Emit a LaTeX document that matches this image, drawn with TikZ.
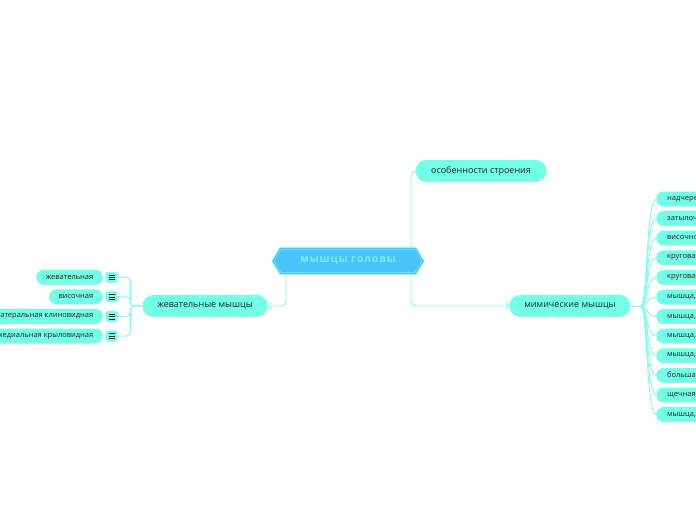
\documentclass[tikz,border=0pt]{standalone}
\usepackage{fontspec}
\setmainfont{Open Sans}
\usepackage{xcolor}
\usepackage{tikz}
\usetikzlibrary{shapes.symbols, arrows.meta, positioning, calc, backgrounds}
\definecolor{mint}{RGB}{115,255,230}
\definecolor{mintline}{RGB}{125,255,232}
\definecolor{hubblue}{RGB}{72,196,250}
\definecolor{hubtext}{RGB}{120,236,240}
\definecolor{inkgray}{RGB}{35,35,35}
\tikzset{
  hub/.style={
    signal, signal to=east and west, signal pointer angle=118,
    fill=hubblue, draw=mintline, line width=0.5pt, double=hubblue, double distance=1.2pt,
    minimum width=150pt, minimum height=25pt, inner sep=0pt, text=hubtext,
    font=\bfseries\fontsize{10.5}{12}\selectfont\addfontfeature{LetterSpace=8}
  },
  branch/.style={
    rectangle, rounded corners=11pt, fill=mint, text=inkgray,
    minimum height=22pt, inner xsep=14pt, font=\fontsize{9}{11}\selectfont
  },
  leaf/.style={
    rectangle, rounded corners=7.5pt, fill=mint, text=inkgray,
    minimum height=15pt, inner xsep=9.5pt, inner ysep=0pt, font=\fontsize{7.5}{9}\selectfont
  },
  rleaf/.style={
    anchor=west, text width=140pt, align=left, inner xsep=11pt
  },
  iconbox/.style={
    rectangle, rounded corners=1.5pt, fill=mint, minimum size=11pt, inner sep=0pt,
    path picture={
      \foreach \k in {-2.4,0,2.4}
        \draw[inkgray, line width=0.7pt]
          ([xshift=-3pt, yshift=\k pt]path picture bounding box.center) -- ++(6pt,0);
    }
  },
  link/.style={draw=mintline, line width=0.9pt},
  arrow/.style={link, -{Straight Barb[length=3pt, width=6pt]}}
}
\begin{document}
\begin{tikzpicture}[x=1pt, y=1pt]

\useasboundingbox (0,0) rectangle (696,-520);
\clip (0,0) rectangle (696,-520);

\node[hub] (head) at (348,-261) {мышцы головы};

\node[branch, minimum width=131pt] (struct) at (481,-171) {особенности строения};
\node[branch, minimum width=121pt] (mimic)  at (570,-306) {мимические мышцы};
\node[branch, minimum width=125pt] (chew)   at (205,-306) {жевательные мышцы};

% left leaves with icons
\foreach \txt [count=\i] in {жевательная, височная, латеральная клиновидная, медиальная крыловидная} {
  \node[leaf, anchor=east] (l\i) at (103, {-277.3-19.6*(\i-1)}) {\txt};
  \node[iconbox, right=3pt of l\i] (ic\i) {};
}

% right leaves
\foreach \txt [count=\i] in {надчерепная мышца, затылочно-лобная мышца, височно-теменная мышца,
    круговая мышца глаза, круговая мышца рта, {мышца, сморщивающая бровь},
    {мышца, поднимающая верхнюю губу}, {мышца, поднимающая угол рта},
    {мышца, опускающая угол рта}, большая скуловая мышца, щечная мышца,
    {мышца, опускающая нижнюю губу}} {
  \node[leaf, rleaf] (r\i) at (656, {-199-19.6*(\i-1)}) {\txt};
}

\begin{scope}[on background layer]
\draw[link, rounded corners=5pt] ([xshift=63pt]head.center) |- (struct.west);
\draw[arrow, rounded corners=5pt] ([xshift=63pt]head.center) |- (mimic.west);
\draw[arrow, rounded corners=5pt] ([xshift=-62pt]head.center) |- (chew.east);
\end{scope}

% fan to the right
\draw[link] (mimic.east) -- ++(10,0) coordinate (mfork);
\foreach \i in {1,...,12} {
  \draw[link] (mfork) .. controls +(7,0) and +(-10,0) .. (r\i.west);
}

% bracket to the left
\foreach \i in {1,...,4} {
  \draw[link, rounded corners=4pt] (chew.west) -- ++(-12,0) |- (ic\i.east);
}

\end{tikzpicture}
\end{document}
